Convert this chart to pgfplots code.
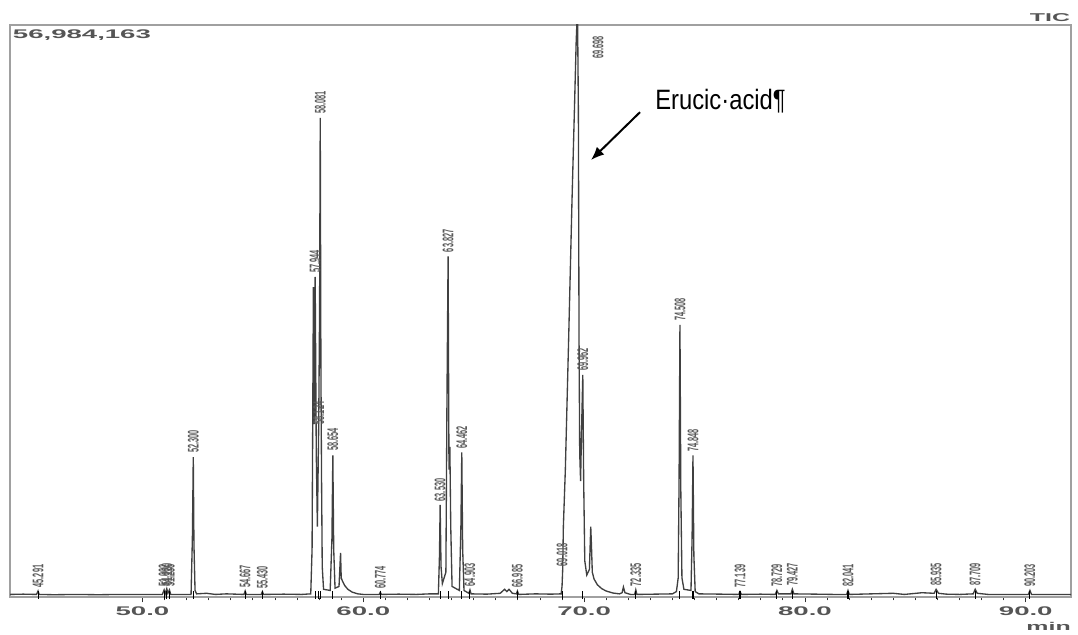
\documentclass[border=0pt]{standalone}
\usepackage{pgfplots}
\usepackage{pgfplotstable}
\pgfplotsset{compat=1.18}
\usepackage{fontspec}
\usetikzlibrary{arrows.meta}
\setmainfont{Liberation Sans}
\newfontfamily\widefont[FakeStretch=2.2]{Liberation Sans}
\newfontfamily\narrowfont[FakeStretch=0.85]{Liberation Sans}

\definecolor{frame}{RGB}{160,160,160}
\definecolor{txt}{RGB}{85,85,85}

% peak labels: retention time, label position (% of full scale), text
\pgfplotstableread{
t y lab
45.27 1.2 45.291
50.98 1.3 51.002
51.10 1.5 51.120
51.22 1.3 51.236
52.30 24.8 52.300
54.65 1.1 54.667
55.43 1.0 55.430
57.82 56.4 57.944
57.98 29.8 58.124
58.05 84.3 58.081
58.62 25.1 58.654
60.77 1.0 60.774
63.48 16.3 63.530
63.84 60.0 63.827
64.46 25.5 64.462
64.83 1.4 64.903
66.98 1.2 66.985
69.00 4.9 69.018
69.94 39.2 69.962
72.34 1.4 72.335
74.34 48.0 74.508
74.93 25.0 74.848
77.06 1.2 77.139
78.73 1.3 78.729
79.43 1.5 79.427
81.95 1.3 82.041
85.94 1.5 85.935
87.71 1.5 87.709
90.19 1.3 90.203
}\peaks

\begin{document}
\begin{tikzpicture}
\path[use as bounding box] (-7.5pt,-28.5pt) rectangle (801pt,447.75pt);
\begin{axis}[
    scale only axis,
    width=795.75pt, height=429pt,
    xmin=44.0, xmax=92.05,
    ymin=-0.35, ymax=100,
    axis line style={frame, line width=1.2pt},
    xtick={50,60,70,80,90},
    xticklabels={50.0,60.0,70.0,80.0,90.0},
    minor x tick num=9,
    ytick=\empty,
    xtick pos=left,
    tick align=outside,
    major tick length=4pt,
    minor tick length=2.5pt,
    tick style={black!80, line width=0.6pt},
    xticklabel style={font=\widefont\bfseries\fontsize{9.4}{10}\selectfont, text=txt, yshift=0.5pt},
    clip mode=individual,
]
\addplot[black!75, line width=1pt] coordinates {
(44.00,0.1)(44.6,0.15)(45.20,0.1)(45.27,0.7)(45.32,0.1)(46.0,0.05)(47.0,0.1)(48.0,0.05)(49.0,0.1)(50.0,0.1)(50.90,0.1)
(50.98,0.9)(51.03,0.2)(51.10,1.1)(51.15,0.3)(51.22,0.9)(51.28,0.1)
(52.20,0.1)(52.26,10)(52.30,24.2)(52.33,9)(52.38,0.8)(52.45,0.2)(52.9,0.3)(53.3,0.1)(53.8,0.2)
(54.60,0.1)(54.65,0.7)(54.70,0.1)(55.38,0.1)(55.43,0.6)(55.48,0.1)(56.4,0.15)(57.2,0.1)(57.62,0.2)
(57.68,8)(57.74,54)(57.78,30)(57.82,55.8)(57.87,25)(57.92,12)(57.98,29.5)(58.02,50)(58.05,83.7)(58.08,40)(58.11,20)(58.14,5)(58.20,1)
(58.50,0.8)(58.58,10)(58.62,24.5)(58.66,8)(58.72,1.2)(58.90,1.5)(58.97,7.4)(59.00,3)(59.06,2.4)(59.15,1.7)(59.3,1.0)(59.5,0.5)(59.75,0.2)(60.0,0.1)
(60.72,0.1)(60.77,0.5)(60.82,0.1)(61.6,0.15)(62.4,0.1)(63.0,0.2)(63.40,0.2)
(63.45,7)(63.48,15.8)(63.52,5)(63.58,2)(63.74,4)(63.79,35)(63.84,59.4)(63.88,22)(63.92,26)(63.96,12)(64.02,1.5)(64.35,0.8)
(64.42,12)(64.46,25)(64.50,8)(64.56,0.8)(64.78,0.3)(64.83,0.9)(64.88,0.2)(65.6,0.15)(66.2,0.3)(66.40,1.0)(66.50,0.6)(66.6,1.0)(66.75,0.3)
(66.93,0.2)(66.98,0.7)(67.03,0.1)(67.8,0.2)(68.5,0.15)(68.96,0.2)
(69.00,1.5)(69.03,4.5)(69.06,12)(69.15,22)(69.30,45)(69.45,69)(69.56,85)(69.64,97)(69.70,103)(69.74,85)(69.77,45)(69.80,25)(69.84,20)(69.89,30)(69.94,38.6)(69.98,20)(70.03,6)(70.12,3.5)(70.24,4.5)(70.30,12)(70.33,9)(70.37,4)(70.45,2.8)(70.6,1.8)(70.8,1.1)(71.0,0.7)(71.3,0.35)(71.6,0.2)(71.72,0.4)(71.78,1.4)(71.85,0.4)(72.1,0.1)
(72.29,0.1)(72.34,0.9)(72.39,0.1)(73.2,0.15)(74.0,0.2)(74.18,0.6)
(74.26,3)(74.30,20)(74.34,47.4)(74.38,18)(74.43,3)(74.52,1.0)(74.84,0.8)(74.89,10)(74.93,24.5)(74.97,7)(75.03,0.6)(75.2,0.2)
(76.2,0.15)(77.00,0.1)(77.06,0.6)(77.12,0.1)(78.0,0.15)(78.66,0.1)(78.73,0.8)(78.80,0.2)(79.37,0.2)(79.43,1.0)(79.50,0.2)(80.5,0.15)(81.3,0.1)(81.89,0.1)(81.95,0.8)(82.01,0.1)(83.0,0.2)(84.0,0.3)(84.5,0.1)(85.3,0.4)(85.85,0.3)(85.94,1.0)(86.05,0.3)(86.4,0.15)(87.0,0.1)(87.62,0.2)(87.71,1.0)(87.8,0.3)(88.3,0.1)(89.3,0.1)(90.12,0.1)(90.19,0.8)(90.26,0.1)(91.0,0.1)(92.05,0.1)
};
% integration markers on the baseline
\addplot[only marks, mark=|, mark size=3pt, black, mark options={line width=0.8pt}] table[x=t, y expr=0] {\peaks};
% rotated retention time labels
\addplot[draw=none, mark=none,
    nodes near coords={\scalebox{1}[2.1]{\pgfplotspointmeta}},
    point meta=explicit symbolic,
    every node near coord/.style={rotate=90, anchor=west, inner sep=0.5pt,
        font=\bfseries\fontsize{5.5}{6}\selectfont, text=black!65}]
    table[x=t, y=y, meta=lab] {\peaks};
\node[rotate=90, anchor=west, inner sep=0.5pt, font=\bfseries\fontsize{5.5}{6}\selectfont, text=black!65]
    at (axis cs:70.63,93.9) {\scalebox{1}[2.1]{69.698}};
% header and unit texts
\node[anchor=north west, font=\widefont\bfseries\fontsize{9.4}{10}\selectfont, text=txt, inner sep=0pt]
    at ([xshift=2pt, yshift=-3.5pt]rel axis cs:0,1) {56,984,163};
\node[anchor=south east, font=\widefont\bfseries\fontsize{8.5}{9}\selectfont, text=txt, inner sep=0pt]
    at ([xshift=-0.5pt, yshift=2.5pt]rel axis cs:1,1) {TIC};
\node[anchor=east, font=\widefont\bfseries\fontsize{8.5}{9}\selectfont, text=txt, inner sep=0pt]
    at ([yshift=-22pt]rel axis cs:1,0) {min};
% annotation
\node[anchor=base west, font=\narrowfont\fontsize{21}{22}\selectfont, inner sep=0pt]
    at (axis cs:73.21,85.1) {Erucic·acid¶};
\draw[black, line width=1.5pt, -{Latex[length=10pt, width=8pt]}]
    (axis cs:72.53,84.7) -- (axis cs:70.31,76.3);
\end{axis}
\end{tikzpicture}
\end{document}
